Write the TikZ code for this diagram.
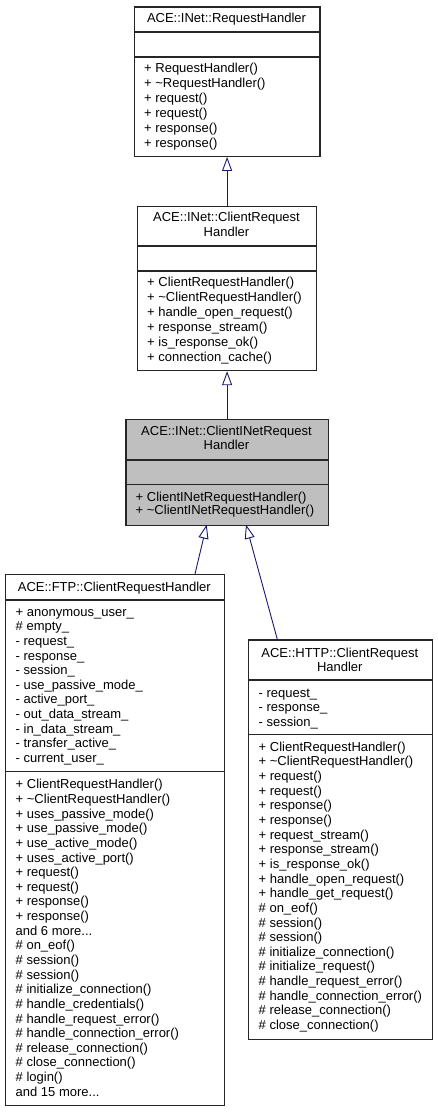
\documentclass[tikz,border=0pt]{standalone}
\usepackage{fontspec}
\setmainfont{Liberation Sans}
\usetikzlibrary{arrows.meta}
\definecolor{navyline}{HTML}{191970}
\definecolor{boxgrey}{HTML}{BFBFBF}
\newcommand{\umlfont}{\fontsize{13}{14.65}\selectfont}
\newcommand{\threedots}{...}
\begin{document}
\begin{tikzpicture}[x=1pt,y=-1pt]
\tikzset{
  cls/.style={draw=black!85, line width=1.2pt, rectangle, inner sep=0pt, anchor=north west},
  sep/.style={draw=black!85, line width=1.2pt},
  inh/.style={draw=navyline, line width=0.9pt, -{Triangle[open,length=14pt,width=10pt,line width=0.9pt]}},
  txt/.style={anchor=base west, inner sep=0pt, font=\umlfont},
  ttl/.style={anchor=base, inner sep=0pt, font=\umlfont},
}
\useasboundingbox (0,0) rectangle (437,1112);

% ---------- Box 1: RequestHandler
\node[cls, minimum width=185.6pt, minimum height=149.4pt] (b1) at (133.7,6.3) {};
\draw[sep] (b1.west |- 0,32) -- (b1.east |- 0,32);
\draw[sep] (b1.west |- 0,57) -- (b1.east |- 0,57);
\node[ttl] (b1t) at (226.5,22.5) {ACE::INet::RequestHandler};
\foreach \t [count=\i from 0] in {+ RequestHandler(), + \textasciitilde RequestHandler(), + request(), + request(), + response(), + response()}
  \node[txt] (b1m\i) at (144,72.8+\i*14.85) {\t};

% ---------- Box 2: ClientRequestHandler
\node[cls, minimum width=179pt, minimum height=164.3pt] (b2) at (137,205.7) {};
\draw[sep] (b2.west |- 0,246) -- (b2.east |- 0,246);
\draw[sep] (b2.west |- 0,271) -- (b2.east |- 0,271);
\node[ttl] (b2t1) at (226.5,221.8) {ACE::INet::ClientRequest};
\node[ttl] (b2t2) at (226.5,236.2) {Handler};
\foreach \t [count=\i from 0] in {+ ClientRequestHandler(), + \textasciitilde ClientRequestHandler(), + handle\_open\_request(), + response\_stream(), + is\_response\_ok(), + connection\_cache()}
  \node[txt] (b2m\i) at (147,286.8+\i*14.85) {\t};

% ---------- Box 3: ClientINetRequestHandler (grey)
\node[cls, fill=boxgrey, minimum width=202.4pt, minimum height=105.7pt] (b3) at (125.3,419) {};
\draw[sep] (b3.west |- 0,460) -- (b3.east |- 0,460);
\draw[sep] (b3.west |- 0,484.7) -- (b3.east |- 0,484.7);
\node[ttl] (b3t1) at (226.5,435.5) {ACE::INet::ClientINetRequest};
\node[ttl] (b3t2) at (226.5,449.5) {Handler};
\foreach \t [count=\i from 0] in {+ ClientINetRequestHandler(), + \textasciitilde ClientINetRequestHandler()}
  \node[txt] (b3m\i) at (135.5,501.2+\i*13.6) {\t};

% ---------- Box 4: FTP ClientRequestHandler
\node[cls, minimum width=218.7pt, minimum height=531pt] (ftp) at (5,574) {};
\draw[sep] (ftp.west |- 0,600) -- (ftp.east |- 0,600);
\draw[sep] (ftp.west |- 0,771.7) -- (ftp.east |- 0,771.7);
\node[ttl] (ftpt) at (114.3,591.2) {ACE::FTP::ClientRequestHandler};
\foreach \t [count=\i from 0] in {+ anonymous\_user\_, \# empty\_, - request\_, - response\_, - session\_, - use\_passive\_mode\_, - active\_port\_, - out\_data\_stream\_, - in\_data\_stream\_, - transfer\_active\_, - current\_user\_}
  \node[txt] (ftpa\i) at (15.5,616.2+\i*14.63) {\t};
\foreach \t [count=\i from 0] in {+ ClientRequestHandler(), + \textasciitilde ClientRequestHandler(), + uses\_passive\_mode(), + use\_passive\_mode(), + use\_active\_mode(), + uses\_active\_port(), + request(), + request(), + response(), + response(), and 6 more\threedots, \# on\_eof(), \# session(), \# session(), \# initialize\_connection(), \# handle\_credentials(), \# handle\_request\_error(), \# handle\_connection\_error(), \# release\_connection(), \# close\_connection(), \# login(), and 15 more\threedots}
  \node[txt] (ftpm\i) at (15.5,788.8+\i*14.64) {\t};

% ---------- Box 5: HTTP ClientRequestHandler
\node[cls, minimum width=184.3pt, minimum height=399.7pt] (http) at (247.7,639.3) {};
\draw[sep] (http.west |- 0,680) -- (http.east |- 0,680);
\draw[sep] (http.west |- 0,734.3) -- (http.east |- 0,734.3);
\node[ttl] (httpt1) at (339.8,657.2) {ACE::HTTP::ClientRequest};
\node[ttl] (httpt2) at (339.8,671.2) {Handler};
\foreach \t [count=\i from 0] in {- request\_, - response\_, - session\_}
  \node[txt] (httpa\i) at (258.5,697.2+\i*14.5) {\t};
\foreach \t [count=\i from 0] in {+ ClientRequestHandler(), + \textasciitilde ClientRequestHandler(), + request(), + request(), + response(), + response(), + request\_stream(), + response\_stream(), + is\_response\_ok(), + handle\_open\_request(), + handle\_get\_request(), \# on\_eof(), \# session(), \# session(), \# initialize\_connection(), \# initialize\_request(), \# handle\_request\_error(), \# handle\_connection\_error(), \# release\_connection(), \# close\_connection()}
  \node[txt] (httpm\i) at (258.5,751.2+\i*14.65) {\t};

% ---------- Inheritance connectors
\draw[inh] (b2.north) -- (b1.south);
\draw[inh] (b3.north) -- (b2.south);
\coordinate (ftpin) at (195,574);
\coordinate (b3l) at (206.7,524.7);
\coordinate (httpin) at (277.3,639.3);
\coordinate (b3r) at (246,524.7);
\draw[inh] (ftpin) -- (b3l);
\draw[inh] (httpin) -- (b3r);
\end{tikzpicture}
\end{document}
